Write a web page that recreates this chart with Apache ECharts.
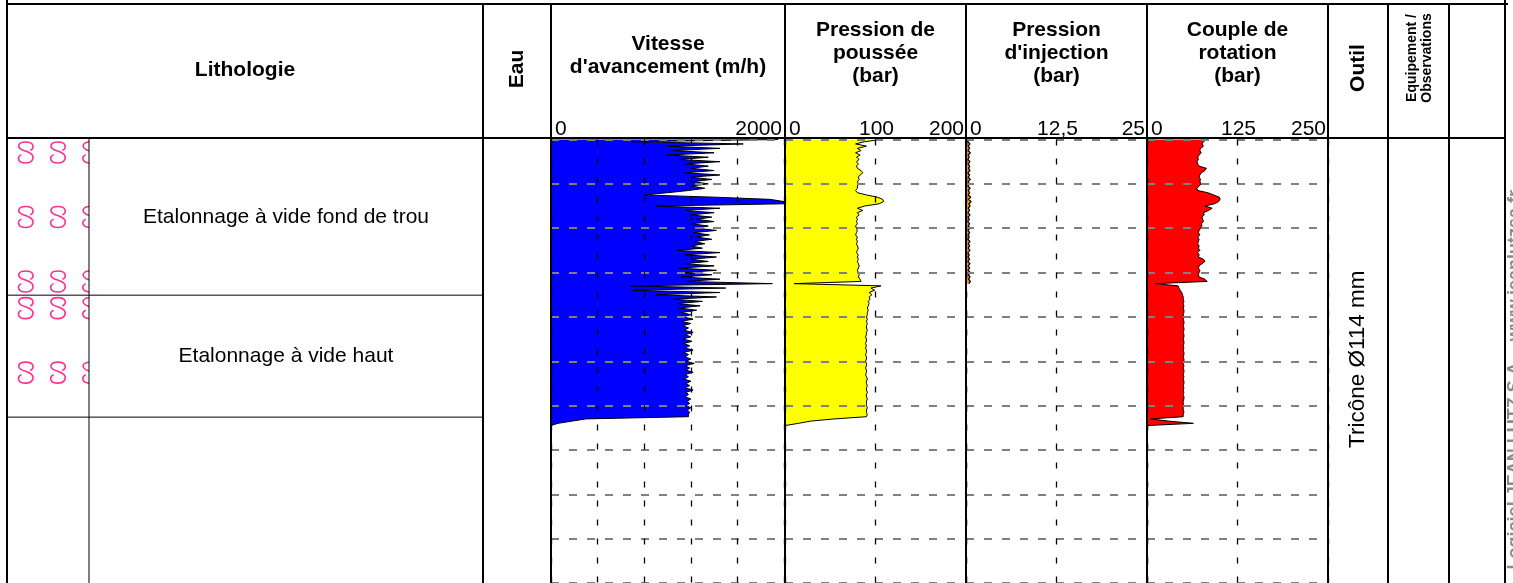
<!DOCTYPE html>
<html>
<head>
<meta charset="utf-8">
<script src="https://cdn.jsdelivr.net/npm/echarts@6/dist/echarts.min.js"></script>
<style>
html, body { margin: 0; padding: 0; background: #fff; }
#log { width: 1513px; height: 583px; }
</style>
</head>
<body>
<div id="log"></div>
<script>
// ---- Depth sampling (m) ----
const DEPTH_STEP = 0.05;
const DEPTH_MAX = 10;
const DEPTH_GRID = 1; // one dashed line per metre

// ---- Drilling parameters, one value per depth step starting at 0 m ----
// Vitesse d'avancement (m/h)
const vitesse = [
  1950, 690, 1650, 1000, 1450, 1050, 1400, 1000, 1350, 1100,
  1450, 1150, 1350, 1200, 1400, 1150, 1450, 1200, 1380, 1220,
  1350, 1200, 1320, 1180, 1000, 800, 1400, 1880, 2000, 2000,
  900, 1450, 1150, 1400, 1200, 1380, 1250, 1400, 1200, 1350,
  1250, 1420, 1220, 1360, 1250, 1380, 1230, 1320, 1200, 1300,
  1080, 1450, 1150, 1420, 1200, 1350, 1150, 1400, 1100, 1420,
  1150, 1380, 1120, 1450, 1150, 1900, 680, 1500, 700, 1450,
  900, 1420, 1050, 1300, 1080, 1280, 1100, 1250, 1120, 1200,
  1130, 1220, 1120, 1200, 1130, 1180, 1140, 1220, 1150, 1200,
  1130, 1210, 1140, 1190, 1150, 1220, 1140, 1180, 1150, 1200,
  1160, 1230, 1150, 1190, 1160, 1220, 1150, 1180, 1140, 1200,
  1160, 1190, 1150, 1220, 1160, 1180, 1150, 1200, 1170, 1190,
  1160, 1200, 1170, 1190, 1180, 1180, 300, 180, 60, 0
];
// Pression de poussée (bar)
const poussee = [
  106, 88, 78, 90, 80, 84, 78, 83, 79, 82,
  79, 81, 79, 80, 84, 86, 83, 81, 82, 80,
  81, 80, 80, 78, 80, 90, 102, 108, 109, 104,
  88, 80, 86, 80, 82, 79, 80, 79, 80, 78,
  79, 80, 79, 78, 80, 79, 80, 79, 80, 81,
  80, 79, 81, 80, 81, 80, 81, 82, 81, 80,
  81, 82, 81, 83, 84, 10, 106, 95, 99, 93,
  96, 93, 94, 92, 93, 92, 91, 92, 91, 91,
  90, 91, 90, 91, 90, 90, 91, 90, 90, 89,
  90, 90, 89, 90, 89, 90, 90, 89, 90, 90,
  89, 90, 90, 89, 90, 90, 89, 90, 91, 90,
  90, 91, 90, 90, 91, 90, 90, 91, 90, 90,
  90, 91, 90, 90, 91, 90, 55, 28, 15, 0
];
// Pression d'injection (bar)
const injection = [
  0.4, 0.25, 0.55, 0.3, 0.5, 0.25, 0.6, 0.3, 0.45, 0.25,
  0.55, 0.3, 0.5, 0.35, 0.55, 0.25, 0.5, 0.3, 0.6, 0.3,
  0.45, 0.25, 0.55, 0.3, 0.5, 0.3, 0.65, 0.35, 0.7, 0.4,
  0.55, 0.3, 0.5, 0.25, 0.55, 0.3, 0.45, 0.25, 0.5, 0.3,
  0.55, 0.25, 0.5, 0.3, 0.45, 0.25, 0.55, 0.3, 0.5, 0.3,
  0.55, 0.25, 0.45, 0.3, 0.5, 0.25, 0.55, 0.3, 0.5, 0.25,
  0.6, 0.3, 0.55, 0.35, 0.6, 0.4
];
// Couple de rotation (bar)
const couple = [
  82, 78, 76, 78, 74, 73, 75, 72, 70, 71,
  69, 70, 72, 82, 80, 75, 73, 72, 74, 73,
  75, 72, 69, 70, 84, 92, 100, 101, 99, 93,
  80, 90, 85, 78, 79, 76, 77, 78, 75, 76,
  74, 72, 71, 73, 70, 72, 71, 70, 72, 71,
  73, 70, 72, 71, 78, 80, 76, 72, 71, 73,
  72, 71, 72, 80, 83, 11, 43, 44, 46, 48,
  49, 50, 50, 51, 50, 51, 50, 51, 51, 50,
  51, 50, 51, 51, 50, 51, 51, 50, 51, 51,
  50, 51, 51, 50, 51, 50, 51, 51, 50, 51,
  51, 50, 51, 50, 51, 51, 50, 51, 50, 51,
  51, 50, 51, 50, 51, 50, 51, 51, 50, 50,
  51, 50, 50, 51, 50, 50, 5, 30, 64, 0
];

// ---- Lithology layers: [top (m), bottom (m)], description, hatched ----
const layerBounds = [[0, 3.51], [3.51, 6.26], [6.26, 10]];
const layerNames = ['Etalonnage à vide fond de trou', 'Etalonnage à vide haut', ''];
const layerHatched = [true, true, false];

// ---- Tool ----
const toolBounds = [[0, 10]];
const toolNames = ['Tricône Ø114 mm'];

// ---- Track scales and tick labels ----
const vitesseTicks = [0, 2000];
const pousseeTicks = [0, 100, 200];
const injectionTicks = [0, 12.5, 25];
const coupleTicks = [0, 125, 250];

// depth categories shared by every track
const depths = [];
for (let i = 0; i * DEPTH_STEP <= DEPTH_MAX + 1e-9; i++) depths.push((i * DEPTH_STEP).toFixed(2));
const gridEvery = Math.round(DEPTH_GRID / DEPTH_STEP) - 1;

const FONT = '"Liberation Sans", Arial, sans-serif';
const TOP = 139.5, HEIGHT = 443.5;

const chart = echarts.init(document.getElementById('log'), null, { renderer: 'canvas' });

function gridAt(left, width) {
  return { left: left, width: width, top: TOP, height: HEIGHT, containLabel: false, outerBoundsMode: 'none' };
}

function trackX(gi, max, interval, ticks) {
  return {
    type: 'value', gridIndex: gi, position: 'top', min: 0, max: max, interval: interval, z: 5,
    axisLine: { show: false }, axisTick: { show: false },
    axisLabel: {
      show: true, margin: 0, fontSize: 21, fontFamily: FONT, color: '#000',
      showMinLabel: true, showMaxLabel: true, alignMinLabel: 'left', alignMaxLabel: 'right',
      padding: [0, 2, 0, 4],
      formatter: v => ticks.indexOf(v) >= 0 ? String(v).replace('.', ',') : ''
    },
    splitLine: { show: true, lineStyle: { color: '#000', width: 1.3, type: [6, 13] } }
  };
}

function trackY(gi) {
  return {
    type: 'category', gridIndex: gi, inverse: true, boundaryGap: false, data: depths, z: 5,
    axisLine: { show: false }, axisTick: { show: false }, axisLabel: { show: false },
    splitLine: { show: true, interval: gridEvery, lineStyle: { color: '#808080', width: 2, type: [8, 10] } }
  };
}

function hiddenX(gi) {
  return { type: 'value', gridIndex: gi, min: 0, max: 1, show: false };
}
function hiddenY(gi) {
  return { type: 'value', gridIndex: gi, min: 0, max: DEPTH_MAX, inverse: true, show: false };
}

function trackSeries(gi, data, fill, lw) {
  return {
    type: 'line', xAxisIndex: gi, yAxisIndex: gi, data: data,
    symbol: 'none', showSymbol: false, animation: false, z: 2,
    lineStyle: { color: '#000', width: lw || 1 },
    areaStyle: { color: fill, opacity: 1 }
  };
}

// "8"-like lithology hatch glyph: an S whose ends curl back towards the middle
const HATCH = 'M7,6.5 C9,5 9,0.5 5,0.5 C1.5,0.5 1,4 3,5.8 C4.5,7 6.5,7.5 7.5,9 C9,11 8.5,15.5 5,15.5 C1,15.5 1,11 3,9.5';

function boundaryLine(x1, x2, y) {
  return { type: 'line', shape: { x1: x1, y1: y, x2: x2, y2: y }, style: { stroke: '#000', lineWidth: 1 } };
}

function renderHatch(params, api) {
  const top = api.value(1), bot = api.value(2);
  const a = api.coord([0, top]), b = api.coord([1, bot]);
  const children = [];
  if (layerHatched[params.dataIndex]) {
    for (let y = a[1] + 2.5; y + 21 <= b[1]; y += 64.5) {
      for (let x = a[0] + 11.5; x < b[0]; x += 32.2) {
        children.push({
          type: 'path',
          shape: { pathData: HATCH, x: x, y: y, width: 14.5, height: 21, layout: 'cover' },
          style: { fill: 'none', stroke: '#ff2f92', lineWidth: 1.6 }
        });
      }
    }
  }
  if (bot < DEPTH_MAX) children.push(boundaryLine(a[0], b[0], b[1]));
  return { type: 'group', children: children };
}

function renderDescription(params, api) {
  const top = api.value(1), bot = api.value(2);
  const a = api.coord([0, top]), b = api.coord([1, bot]);
  const children = [{
    type: 'text', x: (a[0] + b[0]) / 2, y: (a[1] + b[1]) / 2,
    style: { text: layerNames[params.dataIndex], fill: '#000', fontSize: 21, fontFamily: FONT, align: 'center', verticalAlign: 'middle' }
  }];
  if (bot < DEPTH_MAX) children.push(boundaryLine(a[0], b[0], b[1]));
  return { type: 'group', children: children };
}

function renderTool(params, api) {
  const a = api.coord([0, api.value(1)]), b = api.coord([1, api.value(2)]);
  return {
    type: 'text', x: (a[0] + b[0]) / 2, y: (a[1] + b[1]) / 2 - 2, rotation: Math.PI / 2,
    style: { text: toolNames[params.dataIndex], fill: '#000', fontSize: 22.5, fontFamily: FONT, align: 'center', verticalAlign: 'middle' }
  };
}

// ---- Table frame and headers ----
const colLines = [483, 551, 785, 966, 1147, 1328, 1388, 1449];
const graphics = [];
function vline(x, y1, y2, w) {
  graphics.push({ type: 'line', z: 50, shape: { x1: x, y1: y1, x2: x, y2: y2 }, style: { stroke: '#000', lineWidth: w } });
}
function hline(y, x1, x2, w) {
  graphics.push({ type: 'line', z: 50, shape: { x1: x1, y1: y, x2: x2, y2: y }, style: { stroke: '#000', lineWidth: w } });
}
function label(text, x, y, size, bold, rot) {
  graphics.push({
    type: 'text', z: 50, x: x, y: y, rotation: rot || 0,
    style: {
      text: text, fill: '#000', fontSize: size, fontWeight: bold ? 'bold' : 'normal', fontFamily: FONT,
      align: 'center', verticalAlign: 'middle', lineHeight: Math.round(size * 1.1)
    }
  });
}

hline(4, 6, 1508, 2);
hline(138, 7, 1505, 2);
vline(7, 0, 583, 2);
vline(1505, 0, 583, 2);
colLines.forEach(x => vline(x, 4, 583, 2));
vline(89, 138, 583, 1);

label('Lithologie', 245, 70, 21, true);
label('Eau', 517, 69, 21, true, Math.PI / 2);
label("Vitesse\nd'avancement (m/h)", 668, 56, 21, true);
label('Pression de\npoussée\n(bar)', 875.5, 53, 21, true);
label("Pression\nd'injection\n(bar)", 1056.5, 53, 21, true);
label('Couple de\nrotation\n(bar)', 1237.5, 53, 21, true);
label('Outil', 1358, 68, 21, true, Math.PI / 2);
label('Equipement /\nObservations', 1420, 58, 14, true, Math.PI / 2);
graphics.push({
  type: 'text', z: 1, x: 1515, y: 190, rotation: Math.PI / 2,
  style: { text: 'Logiciel JEAN LUTZ S.A. - www.jeanlutzsa.fr', fill: '#8a8a8a', fontSize: 18, fontWeight: 'bold', fontFamily: FONT, align: 'right', verticalAlign: 'middle' }
});

const layerData = layerBounds.map(b => [0, b[0], b[1]]);
const toolData = toolBounds.map(b => [0, b[0], b[1]]);

chart.setOption({
  animation: false,
  backgroundColor: '#fff',
  grid: [
    gridAt(551, 233),   // vitesse
    gridAt(785, 181),   // poussée
    gridAt(966, 181),   // injection
    gridAt(1147, 181),  // couple
    gridAt(7, 82),      // lithology hatch
    gridAt(89, 394),    // lithology description
    gridAt(1328, 60)    // outil
  ],
  xAxis: [
    trackX(0, 2000, 400, vitesseTicks),
    trackX(1, 200, 100, pousseeTicks),
    trackX(2, 25, 12.5, injectionTicks),
    trackX(3, 250, 125, coupleTicks),
    hiddenX(4), hiddenX(5), hiddenX(6)
  ],
  yAxis: [
    trackY(0), trackY(1), trackY(2), trackY(3),
    hiddenY(4), hiddenY(5), hiddenY(6)
  ],
  series: [
    trackSeries(0, vitesse, '#0000ff'),
    trackSeries(1, poussee, '#ffff00'),
    trackSeries(2, injection, '#ff9900', 1.3),
    trackSeries(3, couple, '#ff0000'),
    { type: 'custom', xAxisIndex: 4, yAxisIndex: 4, clip: true, data: layerData, encode: { x: 0, y: [1, 2] }, renderItem: renderHatch },
    { type: 'custom', xAxisIndex: 5, yAxisIndex: 5, clip: true, data: layerData, encode: { x: 0, y: [1, 2] }, renderItem: renderDescription },
    { type: 'custom', xAxisIndex: 6, yAxisIndex: 6, clip: false, data: toolData, encode: { x: 0, y: [1, 2] }, renderItem: renderTool }
  ],
  graphic: graphics
});
</script>
</body>
</html>
